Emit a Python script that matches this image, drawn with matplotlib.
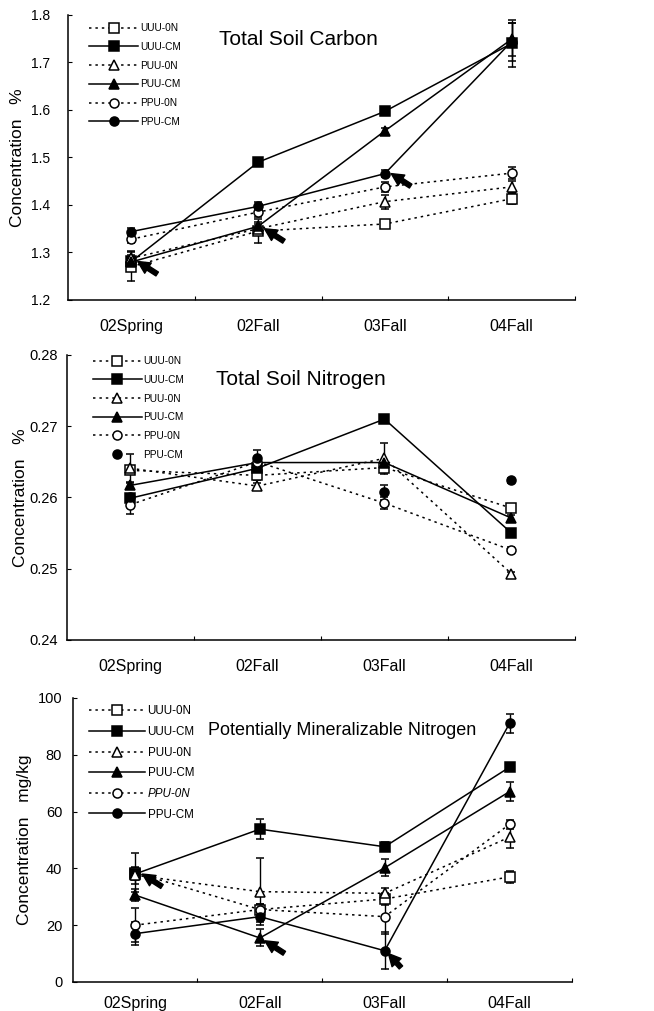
import numpy as np
import matplotlib
matplotlib.use("Agg")
import matplotlib.pyplot as plt
from matplotlib.lines import Line2D
from matplotlib.ticker import FormatStrFormatter, FixedLocator

plt.rcParams['font.family'] = ['Liberation Sans', 'DejaVu Sans']

# categories and series labels
seasons = ['02Spring', '02Fall', '03Fall', '04Fall']
series = ['UUU-0N', 'UUU-CM', 'PUU-0N', 'PUU-CM', 'PPU-0N', 'PPU-CM']

# Total soil carbon (%)
tc_uuu_0n = [1.270, 1.345, 1.360, 1.413]
tc_uuu_cm = [1.281, 1.490, 1.597, 1.740]
tc_puu_0n = [1.288, 1.350, 1.407, 1.438]
tc_puu_cm = [1.280, 1.355, 1.556, 1.749]
tc_ppu_0n = [1.328, 1.385, 1.438, 1.467]
tc_ppu_cm = [1.344, 1.397, 1.466, 1.744]
tc_err = {
    'UUU-0N': [0.030, 0.025, 0.006, 0.012],
    'UUU-CM': [0.010, 0.006, 0.006, 0.050],
    'PUU-0N': [0.015, 0.010, 0.015, 0.012],
    'PUU-CM': [0.015, 0.010, 0.006, 0.035],
    'PPU-0N': [0.008, 0.010, 0.010, 0.012],
    'PPU-CM': [0.008, 0.010, 0.008, 0.040],
}

# Total soil nitrogen (%)
tn_uuu_0n = [0.2638, 0.2631, 0.2642, 0.2585]
tn_uuu_cm = [0.2599, 0.2641, 0.2710, 0.2550]
tn_puu_0n = [0.2641, 0.2616, 0.2655, 0.2493]
tn_puu_cm = [0.2617, 0.2649, 0.2649, 0.2571]
tn_ppu_0n = [0.2590, 0.2650, 0.2592, 0.2526]
tn_ppu_cm = [0.2600, 0.2656, 0.2607, 0.2624]
tn_err = {
    'UUU-0N': [0.0005, 0.0006, 0.0005, 0.0006],
    'UUU-CM': [0.0005, 0.0006, 0.0003, 0.0006],
    'PUU-0N': [0.0020, 0.0005, 0.0022, 0.0003],
    'PUU-CM': [0.0005, 0.0005, 0.0004, 0.0004],
    'PPU-0N': [0.0013, 0.0005, 0.0008, 0.0004],
    'PPU-CM': [0.0005, 0.0010, 0.0010, 0.0003],
}

# Potentially mineralizable nitrogen (mg/kg)
pmn_uuu_0n = [38.5, 25.5, 29.2, 37.0]
pmn_uuu_cm = [38.0, 53.8, 47.6, 75.6]
pmn_puu_0n = [37.6, 31.8, 31.2, 51.0]
pmn_puu_cm = [30.6, 15.5, 40.2, 67.0]
pmn_ppu_0n = [20.0, 25.5, 23.0, 55.5]
pmn_ppu_cm = [17.0, 23.0, 11.0, 91.0]
pmn_err = {
    'UUU-0N': [7.0, 2.0, 2.0, 2.0],
    'UUU-CM': [2.0, 3.5, 1.5, 1.2],
    'PUU-0N': [3.0, 11.7, 2.0, 3.8],
    'PUU-CM': [2.0, 3.0, 3.0, 3.4],
    'PPU-0N': [6.0, 2.0, 6.0, 1.5],
    'PPU-CM': [4.0, 2.0, 6.6, 3.2],
}

markers = {'UUU-0N': ('s', 'white'), 'UUU-CM': ('s', 'black'),
           'PUU-0N': ('^', 'white'), 'PUU-CM': ('^', 'black'),
           'PPU-0N': ('o', 'white'), 'PPU-CM': ('o', 'black')}
dotted = (0, (1.6, 2.6))

x = np.arange(len(seasons)) + 0.5

fig = plt.figure(figsize=(6.54, 10.11), dpi=100)
ax1 = fig.add_axes([0.1040, 0.7033, 0.7752, 0.2819])
ax2 = fig.add_axes([0.1024, 0.3670, 0.7768, 0.2819])
ax3 = fig.add_axes([0.1110, 0.0287, 0.7635, 0.2810])


def draw_panel(ax, data, errs, no_line=(), leg_size=7.3, leg_anchor=(0.034, 0.985),
               xpad=14, ypad=8, ysize=10.5, spacing=0.86):
    handles = []
    for name, vals in zip(series, data):
        m, fc = markers[name]
        if name in no_line:
            ls = 'none'
        elif name.endswith('0N'):
            ls = dotted
        else:
            ls = '-'
        ax.errorbar(x, vals, yerr=errs[name], fmt=m, linestyle=ls,
                    color='black', mfc=fc, mec='black', ms=6.5, mew=1.1,
                    lw=1.1, ecolor='black', elinewidth=1.0, capsize=3)
        handles.append(Line2D([], [], marker=m, linestyle=ls, color='black',
                              mfc=fc, mec='black', ms=6.5, mew=1.1, lw=1.1,
                              label=name))
    ax.set_xlim(0, 4)
    ax.spines['top'].set_visible(False)
    ax.spines['right'].set_visible(False)
    ax.spines['left'].set_linewidth(1.1)
    ax.spines['bottom'].set_linewidth(1.1)
    ax.xaxis.set_major_locator(FixedLocator([1, 2, 3, 4]))
    ax.xaxis.set_minor_locator(FixedLocator(list(x)))
    ax.set_xticklabels([])
    ax.set_xticklabels(seasons, minor=True)
    ax.tick_params(axis='x', which='major', direction='in', length=3)
    ax.tick_params(axis='x', which='minor', length=0, pad=xpad, labelsize=11.5)
    ax.tick_params(axis='y', direction='in', length=3, labelsize=ysize, pad=ypad)
    leg = ax.legend(handles=handles, loc='upper left', bbox_to_anchor=leg_anchor,
                    frameon=False, fontsize=leg_size, handlelength=4.8,
                    handletextpad=0.2, labelspacing=spacing, borderaxespad=0,
                    numpoints=1)
    return leg


def arrow(ax, xi, yi, dx=14, dy=-9):
    ax.annotate('', xy=(xi, yi), xytext=(dx, dy), textcoords='offset points',
                arrowprops=dict(arrowstyle='simple,head_width=0.8,head_length=0.8,tail_width=0.3',
                                color='black', mutation_scale=11, shrinkA=0, shrinkB=0))


# Panel 1
draw_panel(ax1, [tc_uuu_0n, tc_uuu_cm, tc_puu_0n, tc_puu_cm, tc_ppu_0n, tc_ppu_cm], tc_err,
           ypad=13, ysize=10)
ax1.set_ylim(1.2, 1.8)
ax1.set_yticks(np.arange(1.2, 1.81, 0.1))
ax1.yaxis.set_major_formatter(FormatStrFormatter('%.1f'))
ax1.set_ylabel('Concentration   %', fontsize=12.5)
ax1.yaxis.set_label_coords(-0.084, 0.5)
ax1.text(0.455, 0.915, 'Total Soil Carbon', transform=ax1.transAxes,
         ha='center', va='center', fontsize=15)
arrow(ax1, x[0] + 0.05, tc_uuu_cm[0])
arrow(ax1, x[1] + 0.05, tc_puu_cm[1] - 0.005)
arrow(ax1, x[2] + 0.05, tc_ppu_cm[2])

# Panel 2
draw_panel(ax2, [tn_uuu_0n, tn_uuu_cm, tn_puu_0n, tn_puu_cm, tn_ppu_0n, tn_ppu_cm], tn_err,
           no_line=('PPU-CM',), leg_anchor=(0.043, 1.01), ypad=6.5)
ax2.set_ylim(0.24, 0.28)
ax2.set_yticks(np.arange(0.24, 0.2801, 0.01))
ax2.yaxis.set_major_formatter(FormatStrFormatter('%.2f'))
ax2.set_ylabel('Concentration   %', fontsize=12.5)
ax2.yaxis.set_label_coords(-0.076, 0.5)
ax2.text(0.46, 0.915, 'Total Soil Nitrogen', transform=ax2.transAxes,
         ha='center', va='center', fontsize=15)

# Panel 3
leg3 = draw_panel(ax3, [pmn_uuu_0n, pmn_uuu_cm, pmn_puu_0n, pmn_puu_cm, pmn_ppu_0n, pmn_ppu_cm],
                  pmn_err, leg_size=8.4, leg_anchor=(0.024, 0.99), xpad=10, ypad=7.5,
                  spacing=0.74)
leg3.get_texts()[4].set_fontstyle('italic')
ax3.set_ylim(0, 100)
ax3.set_yticks(np.arange(0, 101, 20))
ax3.set_ylabel('Concentration   mg/kg', fontsize=12.5)
ax3.yaxis.set_label_coords(-0.082, 0.5)
ax3.text(0.54, 0.885, 'Potentially Mineralizable Nitrogen', transform=ax3.transAxes,
         ha='center', va='center', fontsize=13)
arrow(ax3, x[0] + 0.06, pmn_uuu_cm[0])
arrow(ax3, x[1] + 0.04, pmn_puu_cm[1] - 1)
arrow(ax3, x[2] + 0.03, pmn_ppu_cm[2] - 1, dx=9, dy=-10)

fig.savefig('out.png', dpi=100)
